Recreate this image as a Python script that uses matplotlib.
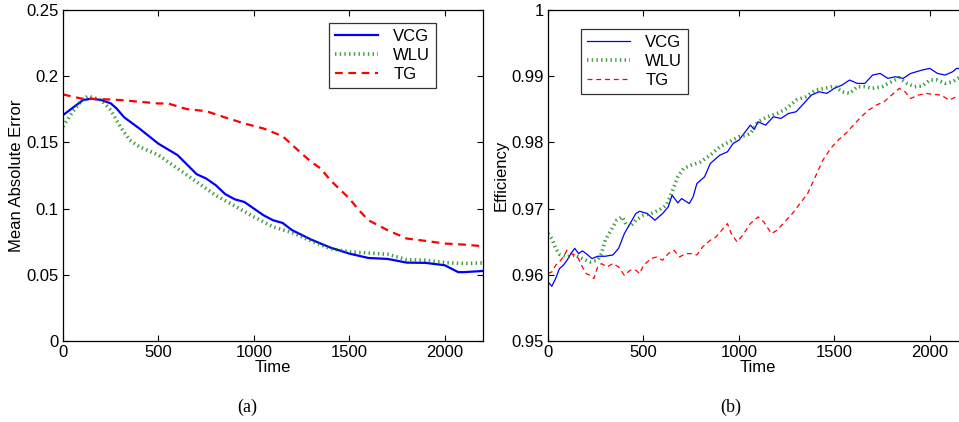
import matplotlib
matplotlib.use("Agg")
import matplotlib.pyplot as plt
import numpy as np

plt.rcParams['font.family'] = ['Liberation Sans', 'DejaVu Sans']

# ---- Panel (a): Mean Absolute Error ----
a_vcg_t = [0, 105, 150, 200, 250, 280, 320, 400, 500, 600, 700, 750, 800, 850, 900, 950, 1000,
           1050, 1100, 1150, 1200, 1300, 1400, 1500, 1600, 1700, 1800, 1900, 2000, 2070, 2100, 2200]
a_vcg = [0.1706, 0.182, 0.183, 0.182, 0.1795, 0.1757, 0.169, 0.1605, 0.149, 0.1404, 0.126, 0.1227,
         0.1177, 0.1109, 0.107, 0.105, 0.100, 0.095, 0.0912, 0.0892, 0.0837, 0.0766, 0.0706, 0.066,
         0.0627, 0.062, 0.0592, 0.059, 0.0572, 0.052, 0.052, 0.0529]

a_wlu_t = [0, 50, 100, 130, 200, 250, 300, 350, 400, 450, 500, 600, 700, 800, 900, 1000, 1100,
           1200, 1300, 1400, 1500, 1600, 1700, 1800, 1900, 2000, 2100, 2200]
a_wlu = [0.162, 0.173, 0.182, 0.185, 0.182, 0.1744, 0.1618, 0.1517, 0.1467, 0.1436, 0.1404, 0.1303,
         0.1202, 0.110, 0.102, 0.0937, 0.0862, 0.0819, 0.0756, 0.0698, 0.0673, 0.0665, 0.0655,
         0.0615, 0.061, 0.0592, 0.0585, 0.059]

a_tg_t = [0, 100, 200, 300, 400, 500, 550, 650, 750, 850, 950, 1050, 1150, 1250, 1300, 1350, 1400,
          1500, 1550, 1600, 1700, 1800, 1900, 2000, 2100, 2200]
a_tg = [0.1862, 0.183, 0.1827, 0.182, 0.1807, 0.1794, 0.1794, 0.1751, 0.1736, 0.1688, 0.1643,
        0.1605, 0.1547, 0.1416, 0.1353, 0.1303, 0.1215, 0.1076, 0.0988, 0.0912, 0.0837, 0.0774,
        0.0756, 0.0736, 0.0728, 0.0716]

# ---- Panel (b): Efficiency ----
b_vcg_t = [0, 20, 40, 60, 80, 100, 120, 140, 160, 180, 200, 230, 260, 300, 340, 370, 400, 430, 460,
           480, 520, 560, 600, 630, 650, 680, 700, 740, 760, 780, 820, 850, 880, 900, 940, 970, 1000,
           1040, 1060, 1080, 1100, 1140, 1180, 1220, 1260, 1300, 1340, 1380, 1420, 1460, 1500, 1540,
           1580, 1620, 1660, 1700, 1740, 1780, 1820, 1860, 1900, 1960, 2000, 2040, 2080, 2120, 2140, 2200]
b_vcg = [0.95892, 0.95827, 0.95943, 0.96094, 0.96144, 0.9622, 0.9632, 0.9640, 0.9632, 0.9636, 0.9632,
         0.96245, 0.9628, 0.9628, 0.9630, 0.9640, 0.96623, 0.96774, 0.96925, 0.9696, 0.96925, 0.96825,
         0.96925, 0.97026, 0.97203, 0.97087, 0.97152, 0.97077, 0.97177, 0.97379, 0.9748, 0.97681,
         0.97757, 0.97807, 0.97858, 0.97984, 0.98034, 0.98185, 0.98261, 0.98196, 0.98311, 0.98261,
         0.98387, 0.98362, 0.98437, 0.98463, 0.98589, 0.98715, 0.98765, 0.9874, 0.98816, 0.98866,
         0.98942, 0.98891, 0.98891, 0.99017, 0.99042, 0.98967, 0.98992, 0.98967, 0.99042, 0.99093,
         0.99118, 0.99042, 0.99017, 0.99068, 0.99118, 0.99103]

b_wlu_t = [0, 20, 40, 60, 100, 140, 180, 220, 260, 280, 300, 330, 360, 390, 410, 430, 460, 500, 540,
           580, 620, 650, 680, 710, 750, 800, 850, 900, 950, 1000, 1040, 1060, 1100, 1150, 1200, 1250,
           1300, 1350, 1400, 1450, 1500, 1540, 1580, 1620, 1660, 1700, 1750, 1800, 1840, 1880, 1920,
           1960, 2000, 2040, 2080, 2120, 2160, 2200]
b_wlu = [0.96623, 0.96547, 0.9640, 0.9631, 0.9627, 0.9630, 0.96245, 0.96195, 0.9622, 0.9632, 0.96522,
         0.96673, 0.96825, 0.96875, 0.9675, 0.96724, 0.96825, 0.969, 0.96925, 0.96976, 0.97051,
         0.97253, 0.9748, 0.97606, 0.97656, 0.97707, 0.97807, 0.97933, 0.98009, 0.98085, 0.9811,
         0.98135, 0.98311, 0.98387, 0.98437, 0.98513, 0.98639, 0.9869, 0.9879, 0.98816, 0.98851,
         0.98765, 0.9874, 0.98841, 0.98841, 0.98816, 0.98841, 0.98916, 0.98977, 0.98891, 0.98841,
         0.98851, 0.98942, 0.98942, 0.98891, 0.98916, 0.98992, 0.99017]

b_tg_t = [0, 20, 40, 60, 80, 100, 120, 140, 160, 180, 200, 220, 240, 260, 280, 310, 340, 370, 400,
          430, 460, 480, 500, 540, 570, 600, 630, 660, 690, 720, 750, 780, 810, 850, 880, 910, 940,
          960, 990, 1020, 1060, 1100, 1130, 1170, 1200, 1240, 1280, 1320, 1360, 1400, 1440, 1480,
          1520, 1560, 1600, 1640, 1680, 1720, 1760, 1800, 1840, 1870, 1900, 1940, 1980, 2020, 2060,
          2100, 2140, 2200]
b_tg = [0.96018, 0.96043, 0.96144, 0.96195, 0.9627, 0.96371, 0.9632, 0.9630, 0.96245, 0.96119,
        0.96018, 0.95993, 0.95943, 0.96119, 0.96169, 0.96119, 0.96169, 0.96119, 0.95993, 0.96069,
        0.96069, 0.96018, 0.96144, 0.96245, 0.9627, 0.9622, 0.9632, 0.96371, 0.9627, 0.9632, 0.9632,
        0.9630, 0.96421, 0.96522, 0.96573, 0.96673, 0.96774, 0.96623, 0.96497, 0.96598, 0.96774,
        0.96875, 0.968, 0.96623, 0.96673, 0.968, 0.96925, 0.97077, 0.97228, 0.9748, 0.97732, 0.97908,
        0.98034, 0.98135, 0.98261, 0.98387, 0.98488, 0.98564, 0.98614, 0.98715, 0.98816, 0.98765,
        0.98664, 0.98715, 0.98740, 0.98725, 0.98715, 0.98639, 0.9869, 0.98715]

a_yticks = [0, 0.05, 0.1, 0.15, 0.2, 0.25]
a_yticklabels = ['0', '0.05', '0.1', '0.15', '0.2', '0.25']
b_yticks = [0.95, 0.96, 0.97, 0.98, 0.99, 1.0]
b_yticklabels = ['0.95', '0.96', '0.97', '0.98', '0.99', '1']
xticks = [0, 500, 1000, 1500, 2000]
labels = ['VCG', 'WLU', 'TG']

W, H = 959, 422
fig = plt.figure(figsize=(W / 100, H / 100), dpi=100)

FS = 12
GREEN = (0.0, 0.5, 0.0)


def style(ax, yticks, yticklabels, ylim):
    ax.set_xlim(0, 2200)
    ax.set_ylim(*ylim)
    ax.set_xticks(xticks)
    ax.set_xticklabels([str(v) for v in xticks])
    ax.set_yticks(yticks)
    ax.set_yticklabels(yticklabels)
    ax.tick_params(direction='in', top=True, right=True, length=4, width=0.8,
                   labelsize=FS, pad=3)
    for s in ax.spines.values():
        s.set_linewidth(0.9)
    ax.set_xlabel('Time', fontsize=FS, labelpad=0)


ax1 = fig.add_axes([63 / W, (H - 341) / H, 420 / W, 331 / H])
ax1.plot(a_vcg_t, a_vcg, color='blue', lw=1.6, ls='-', label=labels[0])
ax1.plot(a_wlu_t, a_wlu, color=GREEN, lw=2.6, ls=(0, (0.4, 0.9)), alpha=0.75, label=labels[1])
ax1.plot(a_tg_t, a_tg, color='red', lw=1.6, ls=(0, (3.5, 2.5)), label=labels[2])
style(ax1, a_yticks, a_yticklabels, (0, 0.25))
ax1.set_ylabel('Mean Absolute Error', fontsize=FS, labelpad=2)
leg1 = ax1.legend(loc='upper left', bbox_to_anchor=((329 - 63) / 420, (341 - 23) / 331),
                  fontsize=FS, frameon=True, fancybox=False, edgecolor='black',
                  borderpad=0.35, labelspacing=0.25, handlelength=2.6, handletextpad=0.9,
                  borderaxespad=0)
leg1.get_frame().set_linewidth(0.9)

ax2 = fig.add_axes([548 / W, (H - 341) / H, 420 / W, 331 / H])
ax2.plot(b_vcg_t, b_vcg, color='blue', lw=0.9, ls='-', label=labels[0])
ax2.plot(b_wlu_t, b_wlu, color=GREEN, lw=2.6, ls=(0, (0.4, 0.9)), alpha=0.75, label=labels[1])
ax2.plot(b_tg_t, b_tg, color='red', lw=0.9, ls=(0, (4, 3)), label=labels[2])
style(ax2, b_yticks, b_yticklabels, (0.95, 1.0))
ax2.set_ylabel('Efficiency', fontsize=FS, labelpad=2)
leg2 = ax2.legend(loc='upper left', bbox_to_anchor=((581 - 548) / 420, (341 - 29) / 331),
                  fontsize=FS, frameon=True, fancybox=False, edgecolor='black',
                  borderpad=0.35, labelspacing=0.25, handlelength=2.6, handletextpad=0.9,
                  borderaxespad=0)
leg2.get_frame().set_linewidth(0.9)

fig.text(247 / W, 1 - 407 / H, '(a)', ha='center', va='center', fontsize=13,
         family=['Liberation Serif', 'DejaVu Serif'])
fig.text(731 / W, 1 - 407 / H, '(b)', ha='center', va='center', fontsize=13,
         family=['Liberation Serif', 'DejaVu Serif'])

fig.savefig('out.png', dpi=100)
